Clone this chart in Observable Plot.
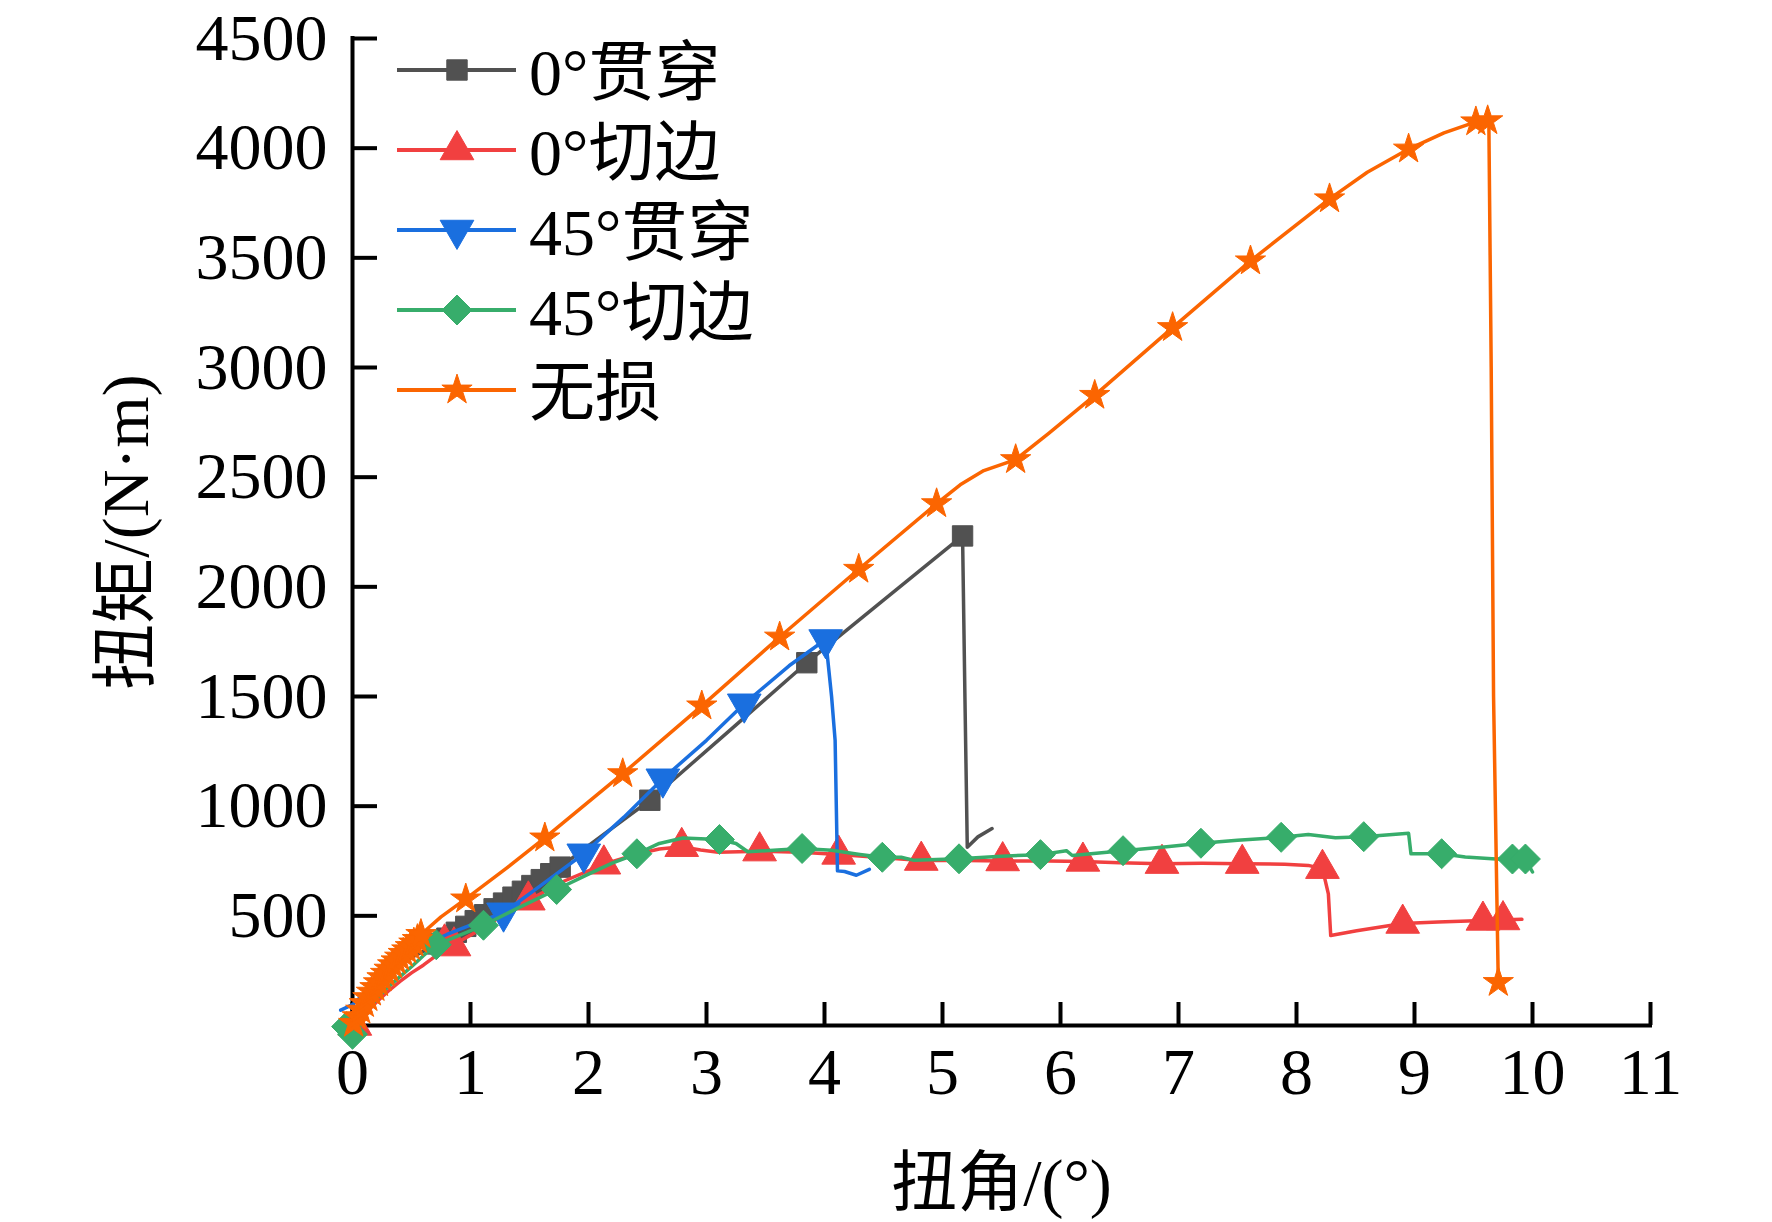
<!DOCTYPE html>
<html><head><meta charset="utf-8">
<script src="https://cdn.jsdelivr.net/npm/d3@7"></script>
<script src="https://cdn.jsdelivr.net/npm/@observablehq/plot@0.6"></script>
<style>
body{margin:0;background:#fff;}
#wrap{position:relative;width:1772px;height:1222px;overflow:hidden;}
#legend{position:absolute;left:397px;top:0;font-family:"Liberation Serif","Noto Sans CJK SC",serif;font-size:66px;color:#000;}
.row{position:absolute;left:0;height:80px;display:flex;align-items:center;white-space:nowrap;}
.row svg{display:block;margin-right:13px;}
.row span{position:relative;top:-4px;}
</style></head><body><div id="wrap"><div id="legend"></div></div>
<script>
// ---- data ----
const xTicks = [0,1,2,3,4,5,6,7,8,9,10,11];
const yTicks = [500,1000,1500,2000,2500,3000,3500,4000,4500];
const xTitle = "扭角/(°)";
const yTitle = "扭矩/(N·m)";
const seriesNames = ["0°贯穿","0°切边","45°贯穿","45°切边","无损"];
const seriesColors = ["#515151","#F14040","#1A6FDF","#37AD6B","#FB6501"];

const g0Line = [[0,0],[0.05,60],[0.1,110],[0.2,185],[0.3,240],[0.4,280],[0.5,310],[0.6,338],[0.72,372],[0.88,425],[1.04,478],[1.2,532],[1.36,585],[1.52,638],[1.76,722],[2.0,820],[2.52,1027],[3.2,1347],[3.85,1654],[4.5,1939],[5.17,2232],[5.19,1500],[5.21,813],[5.3,860],[5.42,898]];
const g0Marks = [[0.72,372],[0.8,398],[0.88,425],[0.96,452],[1.04,478],[1.12,505],[1.2,532],[1.28,558],[1.36,585],[1.44,612],[1.52,638],[1.6,665],[1.68,692],[1.76,722],[2.52,1027],[3.85,1654],[5.17,2232]];

const r0Line = [[0,-10],[0.05,20],[0.1,50],[0.2,105],[0.3,155],[0.4,200],[0.5,240],[0.6,275],[0.7,315],[0.8,352],[0.9,382],[1.0,412],[1.2,478],[1.49,571],[1.8,660],[2.13,735],[2.4,780],[2.6,805],[2.79,815],[2.95,800],[3.1,790],[3.45,795],[3.8,790],[4.12,780],[4.5,765],[4.82,752],[5.2,752],[5.51,750],[5.9,750],[6.19,748],[6.5,742],[6.86,738],[7.2,740],[7.54,738],[7.9,735],[8.1,730],[8.22,715],[8.27,600],[8.29,410],[8.51,432],[8.9,465],[9.2,472],[9.58,479],[9.91,484]];
const r0Marks = [[0.02,0],[0.78,375],[0.86,362],[1.49,571],[2.13,735],[2.79,815],[3.45,795],[4.12,780],[4.82,752],[5.51,750],[6.19,748],[6.86,738],[7.54,738],[8.22,715],[8.9,465],[9.58,479],[9.75,481]];

const b45Line = [[-0.1,70],[0,95],[0.05,120],[0.1,150],[0.2,205],[0.3,255],[0.4,300],[0.6,365],[0.8,415],[1.0,458],[1.28,514],[1.6,640],[1.96,783],[2.3,950],[2.63,1125],[3.0,1300],[3.32,1467],[3.7,1640],[4.01,1760],[4.06,1500],[4.09,1300],[4.11,705],[4.17,702],[4.27,685],[4.38,712]];
const b45Marks = [[1.28,514],[1.96,783],[2.63,1125],[3.32,1467],[4.01,1760]];

const gr45Line = [[-0.1,0],[0,-40],[0.05,10],[0.1,50],[0.2,120],[0.3,175],[0.4,222],[0.5,268],[0.6,318],[0.71,368],[0.9,410],[1.11,457],[1.4,535],[1.73,620],[2.0,690],[2.2,740],[2.41,783],[2.6,830],[2.8,855],[3.0,850],[3.11,848],[3.25,830],[3.35,792],[3.6,800],[3.81,807],[4.06,799],[4.3,780],[4.49,767],[4.65,767],[4.76,753],[5.14,760],[5.5,772],[5.83,779],[6.05,797],[6.1,775],[6.53,797],[6.9,815],[7.19,831],[7.5,845],[7.87,858],[8.1,871],[8.33,856],[8.57,861],[8.95,876],[8.97,783],[9.23,783],[9.43,768],[9.69,759],[9.94,759],[10.0,700]];
const gr45Marks = [[0,-40],[-0.05,-5],[0.71,368],[1.11,457],[1.73,620],[2.41,783],[3.11,848],[3.81,807],[4.49,767],[5.14,760],[5.83,779],[6.53,797],[7.19,831],[7.87,858],[8.57,861],[9.23,783],[9.83,759],[9.94,759]];

const oLine = [[0,0],[0.05,50],[0.1,100],[0.15,145],[0.2,180],[0.25,218],[0.3,250],[0.35,283],[0.4,312],[0.45,340],[0.5,365],[0.55,392],[0.58,415],[0.75,495],[0.96,577],[1.3,715],[1.63,855],[2.29,1148],[2.96,1457],[3.62,1771],[4.29,2080],[4.95,2379],[5.15,2465],[5.35,2530],[5.62,2580],[5.9,2700],[6.29,2873],[6.95,3182],[7.61,3486],[8.28,3769],[8.6,3890],[8.95,3996],[9.25,4070],[9.52,4120],[9.63,4125],[9.65,3000],[9.67,1500],[9.71,196]];
const oMarks = [[0.01,10],[0.04,40],[0.07,70],[0.1,100],[0.13,127],[0.16,152],[0.19,173],[0.22,195],[0.25,218],[0.28,238],[0.31,257],[0.34,277],[0.37,295],[0.4,312],[0.43,329],[0.46,345],[0.49,360],[0.52,376],[0.55,392],[0.58,415],[0.96,577],[1.63,855],[2.29,1148],[2.96,1457],[3.62,1771],[4.29,2080],[4.95,2379],[5.62,2580],[6.29,2873],[6.95,3182],[7.61,3486],[8.28,3769],[8.95,3996],[9.52,4120],[9.62,4125],[9.71,196]];

// ---- symbols ----
const triDown = {draw(ctx, size){const s3=Math.sqrt(3);const y=-Math.sqrt(size/(s3*3));ctx.moveTo(0,-2*y);ctx.lineTo(-s3*y,y);ctx.lineTo(s3*y,y);ctx.closePath();}};
const triUp = {draw(ctx, size){const s3=Math.sqrt(3);const y=-Math.sqrt(size/(s3*3));ctx.moveTo(0,2*y);ctx.lineTo(-s3*y,-y);ctx.lineTo(s3*y,-y);ctx.closePath();}};
const symbols = [d3.symbolSquare, triUp, triDown, d3.symbolDiamond2, d3.symbolStar];
const radii = [11.5, 12.5, 12.5, 13.5, 9.5];
const lines = [g0Line, r0Line, b45Line, gr45Line, oLine];
const marksData = [g0Marks, r0Marks, b45Marks, gr45Marks, oMarks];

// ---- layout ----
const W = 1772, H = 1222, mL = 352, mR = 122, mT = 38, mB = 197;
const plotW = W - mL - mR, plotH = H - mT - mB;
const font = '"Liberation Serif","Noto Sans CJK SC",serif';

const seriesMarks = [];
lines.forEach((ln, i) => {
  seriesMarks.push(Plot.line(ln, {x: d => d[0], y: d => d[1], stroke: seriesColors[i], strokeWidth: 3.5, strokeLinejoin: "round"}));
  seriesMarks.push(Plot.dot(marksData[i], {x: d => d[0], y: d => d[1], symbol: symbols[i], r: radii[i], fill: seriesColors[i], stroke: seriesColors[i], strokeWidth: 1}));
});

const chart = Plot.plot({
  width: W, height: H,
  marginLeft: mL, marginRight: mR, marginTop: mT, marginBottom: mB,
  style: {fontFamily: font, fontSize: "66px", background: "white", color: "black", overflow: "visible"},
  x: {domain: [0, 11]},
  y: {domain: [0, 4500]},
  marks: [
    Plot.axisX({ticks: xTicks, tickSize: 0, tickPadding: 22, tickFormat: d => String(d), label: null, fontSize: 66}),
    Plot.axisY({ticks: yTicks, tickSize: 0, tickPadding: 25, tickFormat: d => String(d), label: null, fontSize: 66}),
    Plot.tickX(xTicks, {x: d => d, stroke: "black", strokeWidth: 4, insetTop: plotH - 23}),
    Plot.tickY(yTicks, {y: d => d, stroke: "black", strokeWidth: 4, insetRight: plotW - 25}),
    Plot.ruleY([0], {stroke: "black", strokeWidth: 4, strokeLinecap: "square"}),
    Plot.ruleX([0], {stroke: "black", strokeWidth: 4, strokeLinecap: "square"}),
    ...seriesMarks,
    Plot.text([xTitle], {frameAnchor: "bottom", dy: 158, fontSize: 66, fill: "black", lineAnchor: "middle", textAnchor: "middle", text: d => d}),
    Plot.text([yTitle], {frameAnchor: "left", dx: -226, rotate: -90, fontSize: 66, fill: "black", lineAnchor: "middle", textAnchor: "middle", text: d => d})
  ]
});
document.getElementById("wrap").prepend(chart);

// ---- legend ----
const rowCenters = [70, 150, 230, 310, 390];
const legend = d3.select("#legend");
seriesNames.forEach((name, i) => {
  const row = legend.append("div").attr("class", "row").style("top", (rowCenters[i] - 40) + "px");
  const svg = row.append("svg").attr("width", 119).attr("height", 80);
  svg.append("line").attr("x1", 0).attr("x2", 119).attr("y1", 40).attr("y2", 40).attr("stroke", seriesColors[i]).attr("stroke-width", 4);
  svg.append("path").attr("transform", "translate(60,40)")
    .attr("d", d3.symbol(symbols[i], radii[i] * radii[i] * Math.PI)())
    .attr("fill", seriesColors[i]).attr("stroke", seriesColors[i]).attr("stroke-width", 1);
  row.append("span").text(name);
});
</script>
</body></html>
